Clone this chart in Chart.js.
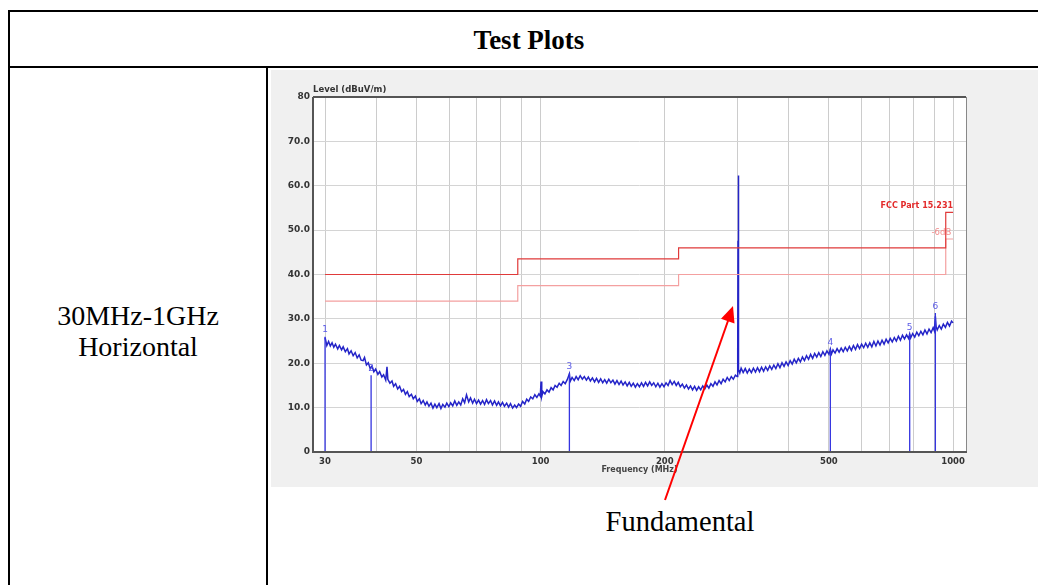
<!DOCTYPE html>
<html>
<head>
<meta charset="utf-8">
<script src="https://cdn.jsdelivr.net/npm/chart.js@4"></script>
<style>
  body { margin: 0; background: #fff; width: 1038px; height: 585px; overflow: hidden; position: relative; }
  .ln { position: absolute; background: #000; }
  .txt { position: absolute; font-family: "Liberation Serif", "Times New Roman", serif; color: #000; text-align: center; white-space: nowrap; }
  #plotbox { position: absolute; left: 271px; top: 70px; width: 767px; height: 417px; background: #f0f0f0; }
  #graph { position: absolute; left: 0; top: 0; }
  #arrow { position: absolute; left: 0; top: 0; }
</style>
</head>
<body>
<div class="ln" style="left:8px;top:10px;width:1040px;height:2px"></div>
<div class="ln" style="left:8px;top:10px;width:2px;height:600px"></div>
<div class="ln" style="left:8px;top:66px;width:1040px;height:2px"></div>
<div class="ln" style="left:266px;top:66px;width:2px;height:600px"></div>

<div class="txt" style="left:380px;width:298px;top:24px;font-size:27px;line-height:32px;font-weight:bold">Test Plots</div>
<div class="txt" style="left:10px;width:256px;top:300px;font-size:28px;line-height:31px">30MHz-1GHz<br>Horizontal</div>
<div class="txt" style="left:560px;width:240px;top:506px;font-size:28.5px;line-height:32px">Fundamental</div>

<div id="plotbox"><canvas id="graph" width="767" height="417"></canvas></div>

<svg id="arrow" width="1038" height="585">
  <line x1="665" y1="500" x2="729" y2="318" stroke="#ff0000" stroke-width="2"/>
  <polygon points="733,306 734.5,323.5 721,318.8" fill="#ff0000"/>
</svg>

<script>
let ctx = document.getElementById("graph").getContext('2d');

const traceFreq = [
  30.0, 30.3, 30.6, 30.9, 31.2, 31.5, 31.8, 32.2, 32.5, 32.9,
  33.2, 33.6, 34.0, 34.3, 34.7, 35.1, 35.5, 35.9, 36.3, 36.7,
  37.1, 37.4, 37.8, 38.2, 38.6, 39.0, 39.4, 39.8, 40.3, 40.7,
  41.2, 41.6, 42.1, 42.4, 42.6, 43.1, 43.6, 44.0, 44.5, 45.0,
  45.5, 46.0, 46.5, 47.0, 47.5, 48.0, 48.6, 49.1, 49.7, 50.2,
  50.8, 51.3, 51.9, 52.5, 53.0, 53.6, 54.2, 54.8, 55.4, 56.0,
  56.7, 57.3, 57.9, 58.6, 59.2, 59.9, 60.5, 61.2, 61.9, 62.6,
  63.3, 64.0, 64.7, 65.4, 66.1, 66.9, 67.6, 68.4, 69.1, 69.9,
  70.7, 71.5, 72.3, 73.1, 73.9, 74.7, 75.6, 76.4, 77.3, 78.2,
  79.0, 79.9, 80.8, 81.7, 82.7, 83.6, 84.5, 85.5, 86.5, 87.4,
  88.4, 89.4, 90.4, 91.5, 92.5, 93.5, 94.6, 95.7, 96.8, 97.9,
  99.0, 99.8, 100.2, 100.6, 101.3, 102.4, 103.6, 104.8, 106.0, 107.2,
  108.4, 109.6, 110.9, 112.1, 113.4, 114.7, 116.0, 117.4, 117.9, 119.2,
  120.6, 121.9, 123.3, 124.7, 126.2, 127.6, 129.1, 130.5, 132.0, 133.5,
  135.1, 136.6, 138.2, 139.8, 141.4, 143.0, 144.6, 146.3, 148.0, 149.7,
  151.4, 153.1, 154.9, 156.7, 158.4, 160.3, 162.1, 164.0, 165.8, 167.7,
  169.7, 171.6, 173.6, 175.6, 177.6, 179.6, 181.7, 183.8, 185.9, 188.0,
  190.2, 192.4, 194.6, 196.8, 199.1, 201.4, 203.7, 206.0, 208.4, 210.8,
  213.2, 215.6, 218.1, 220.6, 223.1, 225.7, 228.3, 230.9, 233.5, 236.2,
  238.9, 241.6, 244.4, 247.2, 250.0, 252.9, 255.8, 258.7, 261.7, 264.7,
  267.7, 270.8, 273.9, 277.0, 280.2, 283.4, 286.6, 289.9, 293.2, 296.6,
  299.5, 300.5, 301.0, 301.3, 301.6, 301.9, 302.5, 304.0, 306.3, 309.8,
  313.4, 317.0, 320.6, 324.3, 328.0, 331.8, 335.6, 339.4, 343.3, 347.2,
  351.2, 355.2, 359.3, 363.4, 367.6, 371.8, 376.1, 380.4, 384.8, 389.2,
  393.6, 398.2, 402.7, 407.4, 412.0, 416.8, 421.6, 426.4, 431.3, 436.2,
  441.2, 446.3, 451.4, 456.6, 461.8, 467.1, 472.5, 477.9, 483.4, 488.9,
  494.5, 500.2, 504.0, 507.3, 511.6, 517.5, 523.4, 529.4, 535.5, 541.6,
  547.8, 554.1, 560.5, 566.9, 573.4, 580.0, 586.6, 593.4, 600.2, 607.1,
  614.0, 621.1, 628.2, 635.4, 642.7, 650.1, 657.5, 665.1, 672.7, 680.4,
  688.2, 696.1, 704.1, 712.2, 720.4, 728.6, 737.0, 745.4, 754.0, 762.6,
  771.4, 780.2, 785.0, 789.2, 798.2, 807.4, 816.7, 826.0, 835.5, 845.1,
  854.8, 864.6, 874.5, 884.6, 894.7, 901.0, 906.0, 910.0, 915.4, 925.9,
  936.6, 947.3, 958.2, 969.2, 980.3, 991.6, 1000
];
const traceLevel = [
  25.8, 24.0, 24.9, 23.9, 24.6, 23.6, 24.3, 23.2, 24.0, 23.0,
  23.7, 22.6, 23.3, 22.1, 22.8, 21.7, 22.4, 21.2, 21.9, 20.7,
  20.6, 21.3, 19.6, 20.1, 18.8, 19.4, 18.1, 18.7, 17.5, 18.1,
  16.9, 17.4, 16.2, 19.2, 16.4, 15.5, 16.0, 14.8, 15.4, 14.2,
  14.8, 13.6, 14.1, 13.0, 13.6, 12.5, 13.0, 12.0, 12.6, 11.4,
  12.0, 10.9, 11.6, 10.6, 11.3, 10.3, 11.0, 9.9, 10.8, 10.0,
  10.9, 9.8, 10.7, 10.1, 11.0, 10.2, 11.1, 10.4, 11.5, 10.5,
  11.3, 10.6, 12.0, 11.1, 12.9, 11.3, 12.2, 11.0, 11.9, 10.9,
  11.7, 10.8, 11.6, 10.7, 11.8, 10.9, 11.6, 10.6, 11.5, 10.5,
  11.3, 10.4, 11.2, 10.3, 11.0, 10.1, 10.9, 9.9, 10.6, 10.0,
  10.8, 10.3, 11.4, 10.8, 11.9, 11.4, 12.4, 12.0, 12.9, 12.3,
  13.1, 12.6, 15.9, 12.5, 13.6, 13.1, 14.0, 13.5, 14.5, 14.0,
  15.0, 14.6, 15.5, 15.0, 15.9, 15.4, 16.3, 17.6, 15.9, 16.8,
  16.1, 17.0, 16.3, 17.2, 16.4, 17.0, 16.2, 16.9, 16.0, 16.7,
  15.8, 16.6, 15.7, 16.5, 15.6, 16.3, 15.5, 16.4, 15.6, 16.2,
  15.3, 16.1, 15.2, 16.0, 15.1, 15.8, 14.9, 15.7, 14.8, 15.5,
  14.6, 15.4, 14.7, 15.6, 14.8, 15.7, 14.9, 15.8, 15.0, 15.6,
  14.7, 15.5, 14.6, 15.4, 14.7, 15.6, 15.0, 16.1, 15.2, 15.9,
  15.0, 15.7, 14.7, 15.3, 14.4, 15.1, 14.2, 14.9, 14.0, 14.8,
  13.9, 14.7, 14.0, 14.9, 14.2, 15.1, 14.4, 15.4, 14.8, 15.8,
  15.1, 16.1, 15.4, 16.4, 15.8, 16.8, 16.1, 17.0, 16.4, 17.3,
  17.0, 23.5, 47.6, 24.0, 62.3, 23.0, 18.6, 17.8, 18.9, 17.9,
  18.8, 17.8, 18.7, 17.9, 18.9, 18.0, 19.0, 18.1, 19.1, 18.2,
  19.2, 18.4, 19.4, 18.6, 19.6, 18.8, 19.9, 19.0, 20.1, 19.3,
  20.3, 19.5, 20.6, 19.8, 20.9, 20.1, 21.1, 20.3, 21.4, 20.6,
  21.7, 20.9, 22.0, 21.1, 22.2, 21.4, 22.4, 21.5, 22.6, 21.8,
  22.8, 22.0, 23.2, 22.1, 23.0, 22.3, 23.3, 22.5, 23.4, 22.6,
  23.6, 22.8, 23.8, 22.9, 24.0, 23.1, 24.2, 23.3, 24.3, 23.5,
  24.5, 23.6, 24.6, 23.7, 24.9, 23.9, 25.0, 24.1, 25.2, 24.3,
  25.4, 24.6, 25.6, 24.8, 25.8, 25.0, 26.1, 25.2, 26.3, 25.5,
  26.4, 25.6, 26.6, 25.7, 26.7, 25.9, 27.0, 26.2, 27.2, 26.4,
  27.5, 26.6, 27.7, 26.9, 28.0, 27.3, 30.6, 28.2, 27.5, 28.5,
  27.7, 28.8, 28.1, 29.2, 28.4, 29.5, 29.1
];

// FCC Part 15.231 limit and -6dB line (step edges)
const limitFreq = [30, 88, 216, 960, 1000];
const limitLevel = [40, 43.5, 46, 54, 54];
const marginLevel = [34, 37.5, 40, 48, 48];

// peak markers
const markerFreq = [30, 38.8, 117.4, 504, 785, 906];
const markerLevel = [26.0, 17.3, 17.7, 23.2, 26.6, 31.3];
const markerLabels = ['1', '2', '3', '4', '5', '6'];

// axes
const xGridVals = [30, 40, 50, 60, 70, 80, 90, 100, 200, 300, 400, 500, 600, 700, 800, 900, 1000];
const xTickLabels = [30, 50, 100, 200, 500, 1000];
const yTickVals = [0, 10, 20, 30, 40, 50, 60, 70, 80];

const traceData = traceFreq.map((f, i) => ({x: f, y: traceLevel[i]}));
const limitData = limitFreq.map((f, i) => ({x: f, y: limitLevel[i]}));
const marginData = limitFreq.map((f, i) => ({x: f, y: marginLevel[i]}));
const markerData = [];
markerFreq.forEach((f, i) => {
    markerData.push({x: f, y: 0}, {x: f, y: markerLevel[i]}, {x: f, y: null});
});

Chart.defaults.font.family = '"DejaVu Sans", Verdana, sans-serif';

const extras = {
    id: 'extras',
    beforeDraw(chart) {
        const a = chart.chartArea;
        const c = chart.ctx;
        c.save();
        c.fillStyle = '#ffffff';
        c.fillRect(a.left, a.top, a.right - a.left, a.bottom - a.top);
        c.restore();
    },
    afterDatasetsDraw(chart) {
        const a = chart.chartArea;
        const c = chart.ctx;
        const xs = chart.scales.x, ys = chart.scales.y;
        c.save();
        // frame
        c.strokeStyle = '#888';
        c.lineWidth = 1;
        c.strokeRect(a.left + 0.5, a.top + 0.5, a.right - a.left, a.bottom - a.top);
        c.strokeStyle = '#555';
        c.lineWidth = 2;
        c.beginPath();
        c.moveTo(a.left, a.top);
        c.lineTo(a.right, a.top);
        c.moveTo(a.left, a.top);
        c.lineTo(a.left, a.bottom);
        c.lineTo(a.right + 1, a.bottom);
        c.stroke();

        // y title
        c.fillStyle = '#333';
        c.font = 'bold 8.5px "DejaVu Sans"';
        c.textAlign = 'left';
        c.textBaseline = 'bottom';
        c.fillText('Level (dBuV/m)', a.left, a.top - 3);

        // limit labels
        c.textAlign = 'right';
        c.fillStyle = '#e32b2b';
        c.font = 'bold 8px "DejaVu Sans"';
        c.fillText('FCC Part 15.231', xs.getPixelForValue(1000), ys.getPixelForValue(limitLevel[4]) - 2);
        c.fillStyle = '#f28a8a';
        c.font = '8.5px "DejaVu Sans"';
        c.textBaseline = 'middle';
        c.fillText('-6dB', xs.getPixelForValue(990), ys.getPixelForValue(marginLevel[4] + 1.3));

        // marker numbers
        c.fillStyle = '#5a5ae6';
        c.font = '9px "DejaVu Sans"';
        c.textAlign = 'center';
        c.textBaseline = 'bottom';
        markerFreq.forEach((f, i) => {
            c.fillText(markerLabels[i], xs.getPixelForValue(f), ys.getPixelForValue(markerLevel[i]) - 2);
        });
        c.restore();
    }
};

new Chart(ctx, {
    type: 'line',
    data: {
        datasets: [
            {
                label: 'markers',
                data: markerData,
                borderColor: '#3535e0',
                borderWidth: 1.3,
                pointRadius: 0,
                spanGaps: false
            },
            {
                label: 'FCC Part 15.231',
                data: limitData,
                borderColor: '#e03a3a',
                borderWidth: 1.2,
                pointRadius: 0,
                stepped: true
            },
            {
                label: '-6dB',
                data: marginData,
                borderColor: '#f4a0a0',
                borderWidth: 1.2,
                pointRadius: 0,
                stepped: true
            },
            {
                label: 'Level',
                data: traceData,
                borderColor: '#2424c8',
                borderWidth: 1.5,
                pointRadius: 0,
                tension: 0
            }
        ]
    },
    options: {
        responsive: false,
        animation: false,
        layout: { padding: { left: 0, top: 27, right: 72, bottom: 12 } },
        plugins: { legend: { display: false }, tooltip: { enabled: false } },
        scales: {
            x: {
                type: 'logarithmic',
                min: 28.05,
                max: 1075,
                afterBuildTicks: (s) => { s.ticks = xGridVals.map(v => ({value: v})); },
                afterFit: (s) => { s.height = 23; },
                grid: { color: '#cccccc', lineWidth: 1, tickLength: 0, drawTicks: false },
                border: { display: false },
                ticks: {
                    autoSkip: false,
                    maxRotation: 0,
                    padding: 5,
                    color: '#333',
                    font: { size: 8.5, weight: 'bold' },
                    callback: (v) => xTickLabels.includes(v) ? String(v) : ''
                },
                title: {
                    display: true,
                    text: 'Frequency (MHz)',
                    color: '#444',
                    padding: { top: 0, bottom: 0 },
                    font: { size: 8, weight: 'bold' }
                }
            },
            y: {
                type: 'linear',
                min: 0,
                max: 80,
                afterBuildTicks: (s) => { s.ticks = yTickVals.map(v => ({value: v})); },
                afterFit: (s) => { s.width = 42; },
                grid: { color: '#d4d4d4', lineWidth: 1, tickLength: 0, drawTicks: false },
                border: { display: false },
                ticks: {
                    padding: 3,
                    color: '#333',
                    font: { size: 9, weight: 'bold' },
                    callback: (v) => (v === 0 || v === 80) ? String(v) : v.toFixed(1)
                }
            }
        }
    },
    plugins: [extras]
});
</script>
</body>
</html>
